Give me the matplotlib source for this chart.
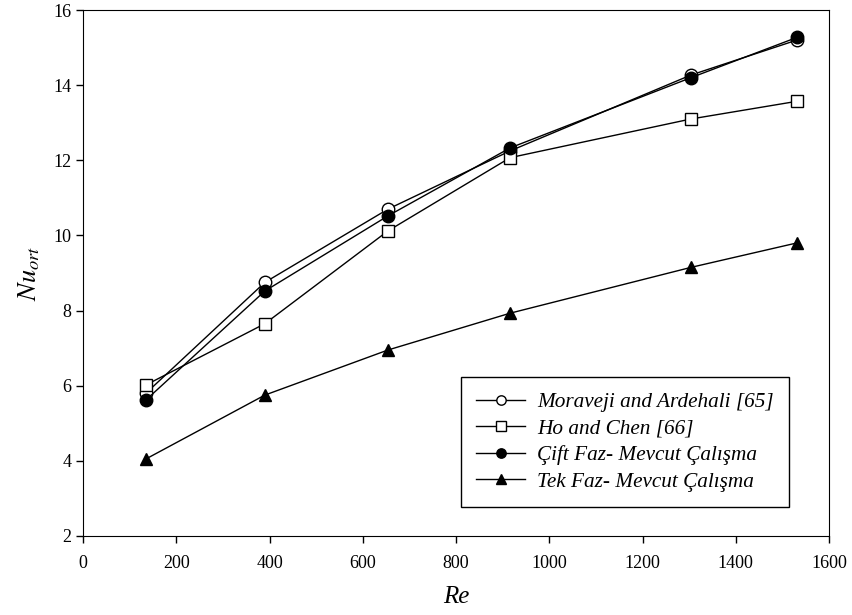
import matplotlib
matplotlib.use("Agg")
import matplotlib.pyplot as plt

# DATA
re = [135, 390, 654, 916, 1304, 1531]
moraveji = [5.80, 8.75, 10.70, 12.25, 14.27, 15.20]
ho_chen = [6.02, 7.65, 10.12, 12.07, 13.10, 13.57]
cift_faz = [5.62, 8.52, 10.52, 12.33, 14.20, 15.27]
tek_faz = [4.05, 5.75, 6.95, 7.93, 9.15, 9.80]

labels = ['Moraveji and Ardehali [65]', 'Ho and Chen [66]',
          'Çift Faz- Mevcut Çalışma', 'Tek Faz- Mevcut Çalışma']

plt.rcParams['font.family'] = ['Liberation Serif', 'DejaVu Serif']
plt.rcParams['mathtext.fontset'] = 'stix'
plt.rcParams['font.size'] = 13

fig = plt.figure(figsize=(8.53, 6.15), dpi=100)
ax = fig.add_axes([0.0973, 0.1285, 0.8746, 0.8552])

style = dict(color='black', linewidth=1.0, markersize=9, markeredgewidth=1.0)
ax.plot(re, moraveji, marker='o', markerfacecolor='white', label=labels[0], **style)
ax.plot(re, ho_chen, marker='s', markerfacecolor='white', label=labels[1], **style)
ax.plot(re, cift_faz, marker='o', markerfacecolor='black', label=labels[2], **style)
ax.plot(re, tek_faz, marker='^', markerfacecolor='black', label=labels[3], **style)

ax.set_xlim(0, 1600)
ax.set_ylim(2, 16)
ax.set_xticks(range(0, 1601, 200))
ax.set_yticks(range(2, 17, 2))
ax.tick_params(direction='out', length=5, width=1, labelsize=13)
ax.tick_params(axis='x', pad=9)

ax.set_xlabel('Re', fontstyle='italic', fontsize=18, labelpad=10)
ax.set_ylabel(r'$Nu_{ort}$', fontsize=19)
ax.yaxis.set_label_coords(-0.055, 0.5)

# LEGEND
leg = ax.legend(loc='lower right', bbox_to_anchor=(0.9464, 0.055), fancybox=False,
                edgecolor='black', framealpha=1, prop={'style': 'italic', 'size': 15.3},
                handlelength=2.3, handletextpad=0.55, borderpad=0.73, labelspacing=0.31,
                markerscale=0.75, borderaxespad=0)
leg.get_frame().set_linewidth(1.0)

fig.savefig("out.png")
